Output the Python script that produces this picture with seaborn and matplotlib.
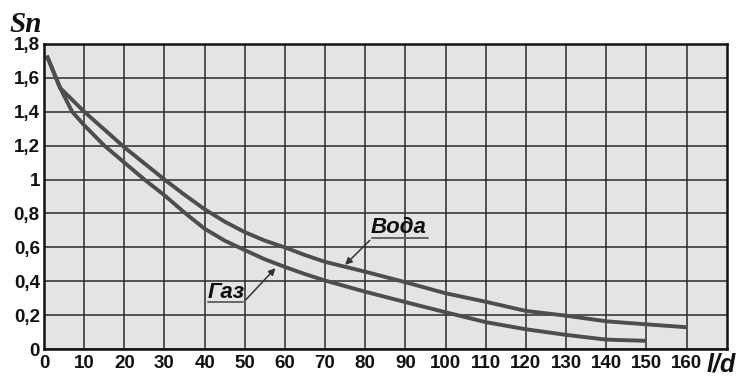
import matplotlib
matplotlib.use("Agg")
import matplotlib.pyplot as plt
import seaborn as sns
import pandas as pd

# ---- data ----
water_x = [0.7, 4, 10, 15, 20, 25, 30, 35, 40, 45, 50, 55, 60, 65, 70, 80, 90, 100, 110, 120, 130, 140, 150, 160]
water_y = [1.73, 1.54, 1.40, 1.295, 1.19, 1.095, 1.00, 0.91, 0.825, 0.752, 0.69, 0.64, 0.60, 0.555, 0.515, 0.457, 0.395, 0.33, 0.28, 0.226, 0.198, 0.165, 0.147, 0.13]
gas_x = [0.7, 4, 7, 10, 15, 20, 25, 30, 35, 40, 45, 50, 55, 60, 65, 70, 80, 90, 100, 110, 120, 130, 140, 150]
gas_y = [1.73, 1.54, 1.40, 1.32, 1.20, 1.10, 1.00, 0.907, 0.805, 0.71, 0.64, 0.584, 0.53, 0.485, 0.443, 0.405, 0.339, 0.278, 0.218, 0.16, 0.118, 0.085, 0.057, 0.05]
x_ticks = [0, 10, 20, 30, 40, 50, 60, 70, 80, 90, 100, 110, 120, 130, 140, 150, 160]
y_ticks = [0, 0.2, 0.4, 0.6, 0.8, 1.0, 1.2, 1.4, 1.6, 1.8]
y_tick_labels = ["0", "0,2", "0,4", "0,6", "0,8", "1", "1,2", "1,4", "1,6", "1,8"]
series_names = ["Вода", "Газ"]

df = pd.concat([
    pd.DataFrame({"x": water_x, "y": water_y, "s": series_names[0]}),
    pd.DataFrame({"x": gas_x, "y": gas_y, "s": series_names[1]}),
])

sns.set_theme(style="ticks")
plt.rcParams["font.family"] = ["Liberation Sans", "DejaVu Sans"]

fig = plt.figure(figsize=(7.37, 3.76), dpi=100)
ax = fig.add_axes([44 / 737, 1 - 349.3 / 376, (726.7 - 44) / 737, (349.3 - 43.7) / 376])
ax.set_facecolor("#e4e4e4")

sns.lineplot(data=df, x="x", y="y", hue="s", palette=["#4d4d4d", "#4d4d4d"],
             linewidth=2.8, legend=False, ax=ax, sort=True, estimator=None)
for ln in ax.get_lines():
    ln.set_solid_joinstyle("round")
    ln.set_solid_capstyle("butt")

ax.set_xlim(0, 170)
ax.set_ylim(0, 1.8)
ax.set_xticks(x_ticks)
ax.set_xticklabels([str(v) for v in x_ticks])
ax.set_yticks(y_ticks)
ax.set_yticklabels(y_tick_labels)
ax.tick_params(axis="both", length=0, labelsize=13.5, colors="#111111")
ax.tick_params(axis="x", pad=4)
ax.tick_params(axis="y", pad=3)
for lab in ax.get_xticklabels() + ax.get_yticklabels():
    lab.set_fontweight("bold")
ax.grid(True, color="#2a2a2a", linewidth=1.1)
ax.set_axisbelow(True)
for sp in ax.spines.values():
    sp.set_visible(True)
    sp.set_color("#111111")
    sp.set_linewidth(1.8)
ax.set_xlabel("")
ax.set_ylabel("")

# series labels with underline and arrow
ax.text(81.4, 0.683, "Вода", fontsize=16, fontweight="bold", fontstyle="italic",
        ha="left", va="baseline", color="#111111")
ax.plot([81.6, 95.5], [0.653, 0.653], color="#666666", linewidth=1.4)
ax.annotate("", xy=(74.5, 0.486), xytext=(81.6, 0.653),
            arrowprops=dict(arrowstyle="-|>", color="#333333", lw=1.1, mutation_scale=10))

ax.text(40.7, 0.30, "Газ", fontsize=16, fontweight="bold", fontstyle="italic",
        ha="left", va="baseline", color="#111111")
ax.plot([40.9, 49.6], [0.276, 0.276], color="#666666", linewidth=1.4)
ax.annotate("", xy=(58.1, 0.49), xytext=(49.8, 0.28),
            arrowprops=dict(arrowstyle="-|>", color="#333333", lw=1.1, mutation_scale=10))

# axis titles
fig.text(9 / 737, 1 - 32 / 376, "Sn", fontsize=21, fontweight="bold", fontstyle="italic",
         family=["Liberation Serif", "DejaVu Serif"], ha="left", va="baseline", color="#111111")
fig.text(707 / 737, 1 - 372 / 376, "l/d", fontsize=18, fontweight="bold", fontstyle="italic",
         ha="left", va="baseline", color="#111111")

fig.savefig("out.png", dpi=100)
